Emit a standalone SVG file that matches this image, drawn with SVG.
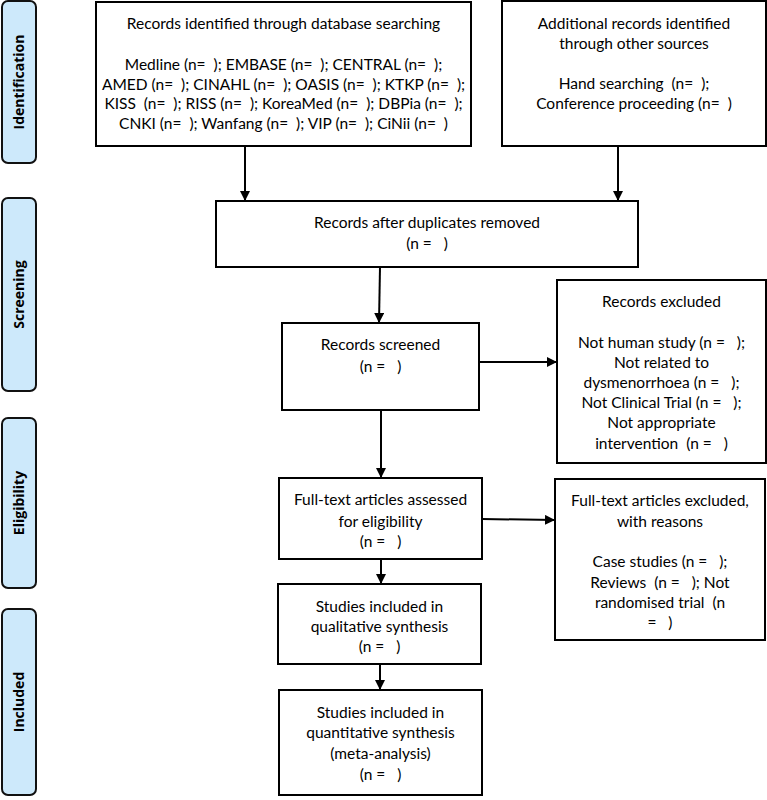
<svg xmlns="http://www.w3.org/2000/svg" width="767" height="800" viewBox="0 0 767 800">
<style>
.box{fill:#fff;stroke:#000;stroke-width:2}
.bar{fill:#cde9fb;stroke:#111;stroke-width:2}
.t{font-family:Lato,"Liberation Sans",sans-serif;font-size:15.5px;fill:#000;text-anchor:middle;white-space:pre}
.lab{font-family:"Open Sans","Liberation Sans",sans-serif;font-size:14px;font-weight:bold;fill:#000;text-anchor:middle}
.c{stroke:#000;stroke-width:2;fill:none;marker-end:url(#ah)}
</style>
<defs>
<marker id="ah" viewBox="0 0 10 10" refX="10" refY="5" markerWidth="5" markerHeight="5" orient="auto" markerUnits="strokeWidth">
<path d="M0,0 L10,5 L0,10 z" fill="#000"/>
</marker>
</defs>
<g id="phase-identification"><rect class="bar" x="2" y="1" width="34" height="162" rx="6"/><text class="lab" transform="translate(24,82) rotate(-90)">Identification</text></g>
<g id="phase-screening"><rect class="bar" x="2" y="198" width="34" height="193" rx="6"/><text class="lab" transform="translate(24,294.5) rotate(-90)">Screening</text></g>
<g id="phase-eligibility"><rect class="bar" x="2" y="418" width="34" height="170" rx="6"/><text class="lab" transform="translate(24,503) rotate(-90)">Eligibility</text></g>
<g id="phase-included"><rect class="bar" x="2" y="609" width="34" height="186" rx="6"/><text class="lab" transform="translate(24,702) rotate(-90)">Included</text></g>

<g id="connectors">
<line class="c" x1="245" y1="146" x2="245" y2="201"/>
<line class="c" x1="618" y1="146" x2="618" y2="201"/>
<line class="c" x1="380" y1="267" x2="379" y2="323"/>
<line class="c" x1="479" y1="362" x2="557" y2="362"/>
<line class="c" x1="381" y1="410" x2="381" y2="478"/>
<line class="c" x1="482" y1="519" x2="555" y2="520"/>
<line class="c" x1="381" y1="559" x2="381" y2="584"/>
<line class="c" x1="380" y1="664" x2="380" y2="690"/>
</g>

<g id="db-search"><rect class="box" x="96" y="2" width="375" height="144"/>
<text class="t" x="283.5" y="29" xml:space="preserve">Records identified through database searching</text>
<text class="t" x="283.5" y="70" xml:space="preserve">Medline (n=  ); EMBASE (n=  ); CENTRAL (n=  );</text>
<text class="t" x="283.5" y="90" xml:space="preserve">AMED (n=  ); CINAHL (n=  ); OASIS (n=  ); KTKP (n=  );</text>
<text class="t" x="283.5" y="109" xml:space="preserve">KISS  (n=  ); RISS (n=  ); KoreaMed (n=  ); DBPia (n=  );</text>
<text class="t" x="283.5" y="129" xml:space="preserve">CNKI (n=  ); Wanfang (n=  ); VIP (n=  ); CiNii (n=  )</text>
</g>
<g id="other-sources"><rect class="box" x="502" y="1" width="264" height="145"/>
<text class="t" x="634" y="29">Additional records identified</text>
<text class="t" x="634" y="49">through other sources</text>
<text class="t" x="634" y="89" xml:space="preserve">Hand searching  (n=  );</text>
<text class="t" x="634" y="109" xml:space="preserve">Conference proceeding (n=  )</text>
</g>
<g id="dedup"><rect class="box" x="216" y="201" width="422" height="66"/>
<text class="t" x="427" y="228">Records after duplicates removed</text>
<text class="t" x="427" y="249" xml:space="preserve">(n =   )</text>
</g>
<g id="screened"><rect class="box" x="282" y="323" width="197" height="87"/>
<text class="t" x="380.5" y="350">Records screened</text>
<text class="t" x="380.5" y="372" xml:space="preserve">(n =   )</text>
</g>
<g id="excluded"><rect class="box" x="557" y="280" width="209" height="183"/>
<text class="t" x="661.5" y="307">Records excluded</text>
<text class="t" x="661.5" y="348" xml:space="preserve">Not human study (n =   );</text>
<text class="t" x="661.5" y="368">Not related to</text>
<text class="t" x="661.5" y="388" xml:space="preserve">dysmenorrhoea (n =   );</text>
<text class="t" x="661.5" y="408" xml:space="preserve">Not Clinical Trial (n =   );</text>
<text class="t" x="661.5" y="428">Not appropriate</text>
<text class="t" x="661.5" y="449" xml:space="preserve">intervention  (n =   )</text>
</g>
<g id="eligibility"><rect class="box" x="279" y="478" width="203" height="81"/>
<text class="t" x="380.5" y="505">Full-text articles assessed</text>
<text class="t" x="380.5" y="527">for eligibility</text>
<text class="t" x="380.5" y="547" xml:space="preserve">(n =   )</text>
</g>
<g id="ft-excluded"><rect class="box" x="555" y="479" width="210" height="161"/>
<text class="t" x="660" y="506">Full-text articles excluded,</text>
<text class="t" x="660" y="527">with reasons</text>
<text class="t" x="660" y="567" xml:space="preserve">Case studies (n =   );</text>
<text class="t" x="660" y="588" xml:space="preserve">Reviews  (n =   ); Not</text>
<text class="t" x="660" y="608" xml:space="preserve">randomised trial  (n</text>
<text class="t" x="660" y="628" xml:space="preserve">=   )</text>
</g>
<g id="qualitative"><rect class="box" x="278" y="584" width="203" height="80"/>
<text class="t" x="379.5" y="612">Studies included in</text>
<text class="t" x="379.5" y="632">qualitative synthesis</text>
<text class="t" x="379.5" y="652" xml:space="preserve">(n =   )</text>
</g>
<g id="quantitative"><rect class="box" x="279" y="690" width="203" height="105"/>
<text class="t" x="380.5" y="718">Studies included in</text>
<text class="t" x="380.5" y="738">quantitative synthesis</text>
<text class="t" x="380.5" y="759">(meta-analysis)</text>
<text class="t" x="380.5" y="780" xml:space="preserve">(n =   )</text>
</g>
</svg>
